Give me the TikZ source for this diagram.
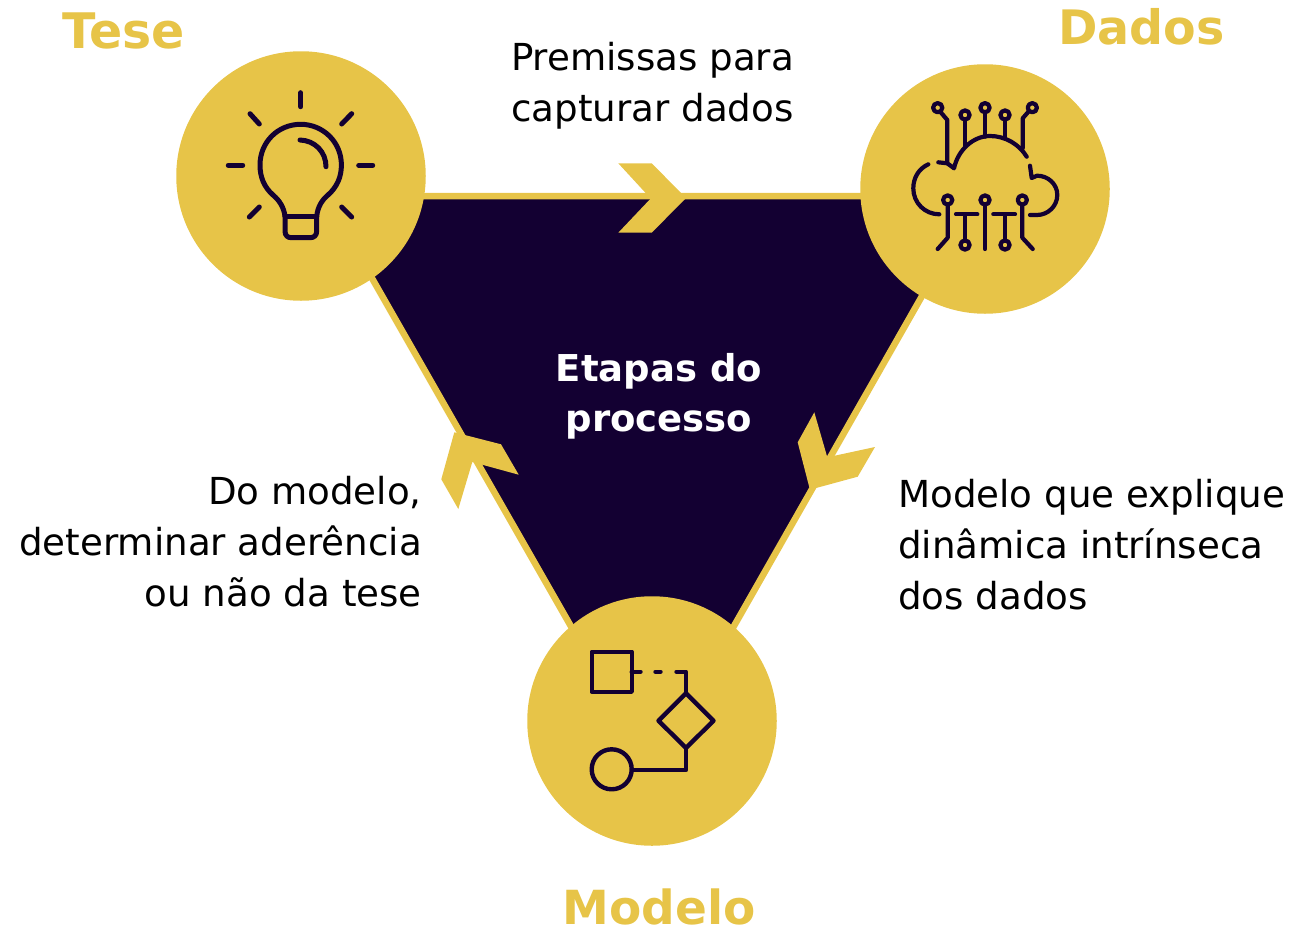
\documentclass[tikz,border=0pt]{standalone}
\usepackage{fontspec}
\setmainfont{DejaVu Sans}
\definecolor{gold}{HTML}{E7C448}
\definecolor{navy}{HTML}{130032}
\tikzset{
  hub/.style={circle,fill=gold,inner sep=0pt,minimum size=249.5pt},
  tri/.style={fill=navy,draw=gold,line width=6.5pt,line join=miter},
  chev/.style={fill=gold,draw=none},
  ico/.style={draw=navy,line width=5pt,line cap=round,line join=round},
  icoflow/.style={draw=navy,line width=4.4pt,line cap=round,line join=round},
  icothin/.style={draw=navy,line width=4.2pt,line cap=round,line join=round},
  heading/.style={font=\fontsize{47}{54}\selectfont\bfseries,text=gold,inner sep=0pt},
  bodytxt/.style={font=\fontsize{37.2}{51}\selectfont,text=black,inner sep=0pt},
  centretxt/.style={font=\fontsize{37}{50}\selectfont\bfseries,text=white,inner sep=0pt,align=center},
}
\newcommand{\pad}[2]{\draw[icothin] (#1,#2) circle[radius=4.6];}
\begin{document}
\begin{tikzpicture}[x=1pt,y=-1pt]
\useasboundingbox (0,0) rectangle (1312,929);
% triangle
\draw[tri] (325,196) -- (979,196) -- (652.5,769) -- cycle;
% chevrons
\fill[chev] (618.3,163.3) -- (651.7,163.3) -- (686,198) -- (651.7,232.7) -- (618.3,232.7) -- (650.7,198.5) -- cycle;
\fill[chev] (454.3,432.3) -- (501,444.3) -- (518.7,474.7) -- (472.3,462) -- (458.3,509) -- (441.3,479.3) -- cycle;
\fill[chev] (814.3,412.3) -- (827.3,457.3) -- (875,447) -- (857.7,476.7) -- (815,488.3) -- (809.3,487.3) -- (797.7,442.3) -- cycle;
% hubs
\node[hub] (tese) at (301,176) {};
\node[hub] (dados) at (985,189) {};
\node[hub] (modelo) at (652,721) {};
% bulb
\begin{scope}[ico]
\draw (300.7,92.7) -- (300.7,106.7);
\draw (250,113.7) -- (259.3,124);
\draw (351.7,113.7) -- (341.7,124);
\draw (228.3,165.3) -- (242.7,165.3);
\draw (358.7,165.3) -- (372.7,165.3);
\draw (259.3,207) -- (249.3,217);
\draw (341.7,207) -- (351.7,217);
\draw (285,216.7) .. controls (284,207) and (279,200) .. (273,195)
  .. controls (264,187) and (260,177) .. (260,165)
  .. controls (260,142) and (278,124.3) .. (300.7,124.3)
  .. controls (323,124.3) and (341.4,142) .. (341.4,165)
  .. controls (341.4,177) and (337,187) .. (328,195)
  .. controls (322,200) and (317.5,207) .. (316.7,216.7)
  -- (316.7,231) .. controls (316.7,235.5) and (314,237.7) .. (310,237.7)
  -- (291.5,237.7) .. controls (287.5,237.7) and (285,235.5) .. (285,231) -- cycle;
\draw (285,216.7) -- (316.7,216.7);
\draw (300,140) .. controls (315,140.5) and (326,152) .. (326,166.7);
\end{scope}
% cloud
\begin{scope}[icothin]
\draw (928.3,164.3) .. controls (919,168.5) and (913.3,177.5) .. (913.3,188.3)
  .. controls (913.3,203) and (925,214.3) .. (939.3,214.3);
\draw (938.3,162.3) -- (947.3,163.3) -- (954,168.3)
  .. controls (958,150) and (973,136) .. (990,136)
  .. controls (1005,136) and (1019,144) .. (1026.7,156.7);
\draw (1030,165.7) -- (1031.7,178) -- (1037,175.7)
  .. controls (1048,175.7) and (1057.3,184) .. (1057.3,195)
  .. controls (1057.3,206) and (1048,215) .. (1037,215) -- (1030,215);
\pad{937.7}{107.7} \pad{965}{115} \pad{985}{107.7} \pad{1005}{115} \pad{1032.3}{107.7}
\pad{947.7}{200} \pad{985}{200} \pad{1022.3}{200} \pad{965}{245} \pad{1005}{245}
\draw (940.5,112) -- (947.3,120) -- (947.3,163.3);
\draw (965,120) -- (965,145.7);
\draw (985,112.3) -- (985,136.7);
\draw (1005,120) -- (1005,136.7);
\draw (1029,111) -- (1022.7,118.3) -- (1022.7,148.3);
\draw (947.7,205) -- (947.7,237.7) -- (937.7,249);
\draw (985,205) -- (985,249);
\draw (1022.3,205) -- (1022.3,237.7) -- (1032.7,249);
\draw (956,214.3) -- (977.3,214.3);
\draw (965,214.3) -- (965,240);
\draw (993.3,214.3) -- (1015,214.3);
\draw (1005,214.3) -- (1005,240);
\end{scope}
% flow icon
\begin{scope}[icoflow]
\draw (591.7,651.7) rectangle (631.7,691.7);
\draw (631.7,671.7) -- (640.5,671.7);
\draw (655.5,671.7) -- (660.5,671.7);
\draw (676.5,671.7) -- (686,671.7) -- (686,693.3);
\draw (686,693.3) -- (713.5,720.7) -- (686,748) -- (658.5,720.7) -- cycle;
\draw (686,748) -- (686,770) -- (632,770);
\draw (611.7,769.3) circle[radius=20];
\end{scope}
% texts
\node[heading,font=\fontsize{49}{54}\selectfont\bfseries] (t1) at (123.5,31) {Tese};
\node[heading,font=\fontsize{47.5}{54}\selectfont\bfseries] (t2) at (1141.5,27) {Dados};
\node[heading] (t3) at (659,907) {Modelo};
\node[centretxt] (c) at (659,396) {Etapas do\\processo};
\node[bodytxt,align=center] (p1) at (652.5,85.5) {Premissas para\\capturar dados};
\node[bodytxt,align=left,anchor=west] (p2) at (898,544.5) {Modelo que explique\\dinâmica intrínseca\\dos dados};
\node[bodytxt,align=right,anchor=east] (p3) at (422,541.5) {Do modelo,\\determinar aderência\\ou não da tese};
\end{tikzpicture}
\end{document}
